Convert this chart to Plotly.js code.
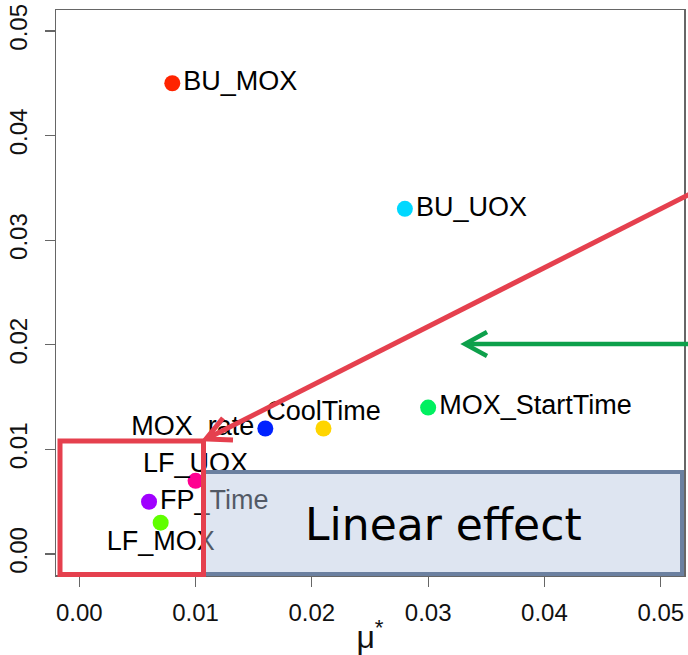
<!DOCTYPE html>
<html>
<head>
<meta charset="utf-8">
<script src="https://cdn.plot.ly/plotly-3.0.1.min.js"></script>
<style>html,body{margin:0;padding:0;background:#fff;}#chart{width:688px;height:655px;}</style>
</head>
<body>
<div id="chart"></div>
<script>
// ---- data ----
const names = ["BU_MOX", "BU_UOX", "MOX_StartTime", "CoolTime", "MOX_rate", "LF_UOX", "FP_Time", "LF_MOX"];
const muStar = [0.008, 0.028, 0.030, 0.021, 0.016, 0.010, 0.006, 0.007];
const sigma  = [0.045, 0.033, 0.014, 0.012, 0.012, 0.007, 0.005, 0.003];
const pointColors = ["#FF2400", "#00D8FF", "#00F060", "#FFD500", "#0022FF", "#FF0090", "#A000FF", "#60FF00"];
const labelPos = ["middle right", "middle right", "middle right", "top center", "middle left", "top center", "middle right", "bottom center"];
const tickVals = [0, 0.01, 0.02, 0.03, 0.04, 0.05];
const tickText = ["0.00", "0.01", "0.02", "0.03", "0.04", "0.05"];

// ---- geometry helpers (pixel -> paper) for the overlay drawing ----
const M = {l: 56, r: 4, t: 10, b: 80};
const W = 688, H = 655;
const pw = W - M.l - M.r, ph = H - M.t - M.b;
const px = x => (x - M.l) / pw;
const py = y => (H - M.b - y) / ph;
function pathPx(pts) {
  return pts.map((p, i) => (i ? "L " : "M ") + px(p[0]).toFixed(5) + "," + py(p[1]).toFixed(5)).join(" ");
}

const red = "#E5404E";
const green = "#0DA04B";

// label gap depends on the side the text sits on
const labelGap = labelPos.map(p => p.startsWith("top") ? 1 : (p.startsWith("bottom") ? 10 : 16));

const dots = {
  type: "scatter",
  mode: "markers",
  x: muStar,
  y: sigma,
  marker: {size: 16, color: pointColors, line: {width: 0}},
  hoverinfo: "none",
  cliponaxis: false
};

const labels = {
  type: "scatter",
  mode: "markers+text",
  x: muStar,
  y: sigma,
  text: names,
  textposition: labelPos,
  textfont: {family: "Liberation Sans, Arial, sans-serif", size: 27, color: "#000"},
  marker: {size: labelGap, color: "rgba(0,0,0,0)", line: {width: 0}},
  hoverinfo: "none",
  cliponaxis: false
};

const axisCommon = {
  showline: true, mirror: true, linecolor: "#666", linewidth: 1.5,
  showgrid: false, zeroline: false,
  ticks: "outside", ticklen: 10, tickwidth: 1.2, tickcolor: "#666",
  tickvals: tickVals, ticktext: tickText,
  tickfont: {family: "Liberation Sans, Arial, sans-serif", size: 24, color: "#111"},
  range: [-0.002, 0.052]
};

const layout = {
  width: W, height: H,
  margin: M,
  paper_bgcolor: "#fff", plot_bgcolor: "#fff",
  showlegend: false,
  xaxis: Object.assign({}, axisCommon, {
    ticklabelstandoff: 6,
    title: {text: "μ<sup>*</sup>", font: {family: "Liberation Sans, Arial, sans-serif", size: 32, color: "#111"}, standoff: 2}
  }),
  yaxis: Object.assign({}, axisCommon, {tickangle: -90, ticklabelstandoff: 8}),
  shapes: [
    // Linear effect box (semi-transparent)
    {type: "rect", xref: "paper", yref: "paper", layer: "above",
     x0: px(203), x1: px(682), y0: py(574), y1: py(472),
     fillcolor: "rgba(182,198,225,0.45)", line: {color: "#6B80A0", width: 4}},
    // red box
    {type: "rect", xref: "paper", yref: "paper", layer: "above",
     x0: px(60), x1: px(203.5), y0: py(574.5), y1: py(441),
     fillcolor: "rgba(0,0,0,0)", line: {color: red, width: 5}},
    // red arrow shaft
    {type: "path", xref: "paper", yref: "paper", layer: "above",
     path: pathPx([[690, 194], [208, 438]]), line: {color: red, width: 5}},
    // red arrow head
    {type: "path", xref: "paper", yref: "paper", layer: "above",
     path: pathPx([[223, 418], [206, 439], [233, 440]]), line: {color: red, width: 5}},
    // green arrow shaft
    {type: "path", xref: "paper", yref: "paper", layer: "above",
     path: pathPx([[690, 344], [466, 344]]), line: {color: green, width: 4.5}},
    // green arrow head
    {type: "path", xref: "paper", yref: "paper", layer: "above",
     path: pathPx([[487, 332], [465, 344], [487, 356]]), line: {color: green, width: 4.5}}
  ],
  annotations: [
    {xref: "paper", yref: "paper", x: px(443), y: py(524), xanchor: "center", yanchor: "middle",
     text: "Linear effect", showarrow: false,
     font: {family: "DejaVu Sans, sans-serif", size: 44, color: "#000"}}
  ]
};

Plotly.newPlot("chart", [dots, labels], layout, {staticPlot: true, displayModeBar: false});
</script>
</body>
</html>
